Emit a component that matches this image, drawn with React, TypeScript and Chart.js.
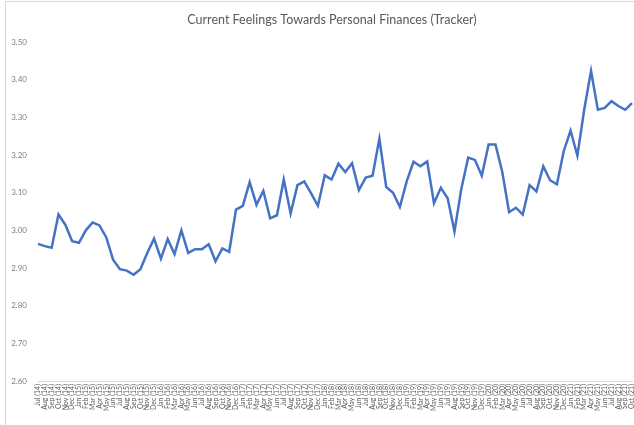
import React, { useEffect, useRef } from "react";
import { Chart, registerables } from "chart.js";

Chart.register(...registerables);

const TITLE = "Current Feelings Towards Personal Finances (Tracker)";

const MONTHS = ["Jan", "Feb", "Mar", "Apr", "May", "Jun", "Jul", "Aug", "Sep", "Oct", "Nov", "Dec"];

// Monthly labels Jul (14) .. Oct (21)
const LABELS: string[] = [];
for (let y = 14; y <= 21; y++) {
  for (let m = 0; m < 12; m++) {
    if (y === 14 && m < 6) continue;
    if (y === 21 && m > 9) continue;
    LABELS.push(`${MONTHS[m]} (${y})`);
  }
}

const VALUES: number[] = [
  2.964, 2.958, 2.954, 3.042, 3.015, 2.971, 2.967, 3.0, 3.021, 3.013, 2.981, 2.922,
  2.897, 2.893, 2.882, 2.897, 2.94, 2.978, 2.925, 2.977, 2.937, 3.0, 2.94, 2.95,
  2.95, 2.963, 2.918, 2.952, 2.943, 3.055, 3.065, 3.128, 3.068, 3.105, 3.032, 3.04,
  3.135, 3.045, 3.12, 3.13, 3.098, 3.065, 3.146, 3.135, 3.177, 3.155, 3.178, 3.107,
  3.14, 3.145, 3.243, 3.115, 3.1, 3.062, 3.13, 3.182, 3.17, 3.183, 3.072, 3.113,
  3.085, 2.997, 3.11, 3.193, 3.187, 3.145, 3.228, 3.228, 3.155, 3.048, 3.06, 3.042,
  3.12, 3.103, 3.17, 3.133, 3.122, 3.21, 3.265, 3.198, 3.32, 3.423, 3.32, 3.325,
  3.343, 3.33, 3.32, 3.338,
];

const Y_MIN = 2.6;
const Y_MAX = 3.5;
const Y_STEP = 0.1;

const frameAndTitle = {
  id: "frameAndTitle",
  beforeDraw(chart: any) {
    const ctx = chart.ctx;
    ctx.save();
    ctx.fillStyle = "#ffffff";
    ctx.fillRect(0, 0, chart.width, chart.height);
    ctx.strokeStyle = "#d9d9d9";
    ctx.lineWidth = 1;
    ctx.strokeRect(5.5, 1.5, chart.width + 10, chart.height + 10);
    ctx.fillStyle = "#595959";
    ctx.font = "12.5px Lato, 'Open Sans', sans-serif";
    ctx.textAlign = "center";
    ctx.textBaseline = "middle";
    ctx.fillText(TITLE, 332, 20);
    ctx.restore();
  },
};

export default function App() {
  const ref = useRef<HTMLCanvasElement | null>(null);

  useEffect(() => {
    if (!ref.current) return;
    const chart = new Chart(ref.current, {
      type: "line",
      data: {
        labels: LABELS,
        datasets: [
          {
            data: VALUES,
            borderColor: "#4472C4",
            borderWidth: 2.5,
            pointRadius: 0,
            tension: 0,
            fill: false,
          },
        ],
      },
      options: {
        responsive: false,
        animation: false,
        devicePixelRatio: 1,
        layout: { padding: { left: 6, top: 42, right: 2, bottom: 0 } },
        plugins: {
          legend: { display: false },
          title: { display: false },
          tooltip: { enabled: false },
        },
        scales: {
          x: {
            offset: false,
            grid: { display: false, drawTicks: false },
            border: { display: true, color: "#d9d9d9", width: 1 },
            ticks: {
              autoSkip: false,
              maxRotation: 90,
              minRotation: 90,
              padding: 3,
              color: "#595959",
              font: { size: 7, family: "Lato, 'Open Sans', sans-serif" },
            },
            afterFit: (s: any) => {
              s.height = 44;
              s.paddingLeft = 0;
              s.paddingRight = 0;
            },
          },
          y: {
            min: Y_MIN,
            max: Y_MAX,
            grid: { display: false, drawTicks: false },
            border: { display: false },
            ticks: {
              stepSize: Y_STEP,
              padding: 11,
              color: "#7f7f7f",
              font: { size: 8, family: "Lato, 'Open Sans', sans-serif" },
              callback: (v: any) => Number(v).toFixed(2),
            },
            afterFit: (s: any) => {
              s.width = 32;
            },
          },
        },
      },
      plugins: [frameAndTitle],
    });
    return () => chart.destroy();
  }, []);

  return (
    <div style={{ position: "fixed", left: 0, top: 0, width: 634, height: 425, background: "#fff" }}>
      <canvas ref={ref} width={634} height={425} style={{ width: 634, height: 425 }} />
    </div>
  );
}
